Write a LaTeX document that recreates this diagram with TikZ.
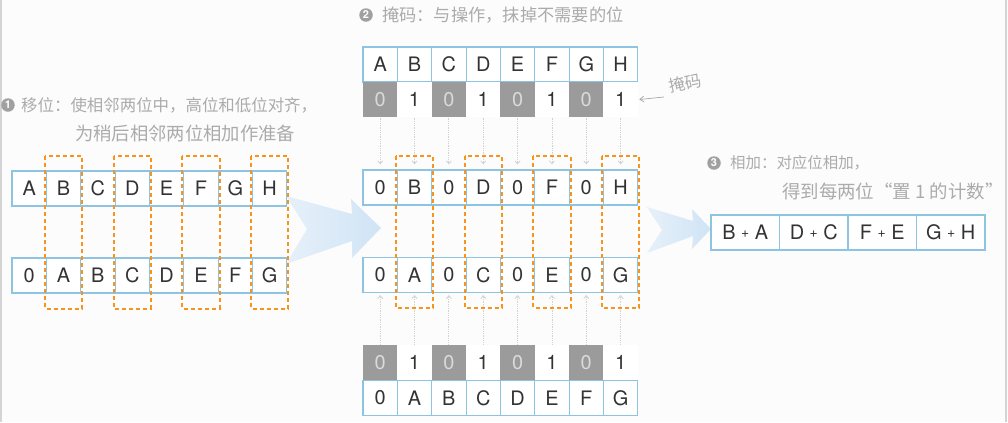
\documentclass[tikz,border=0pt]{standalone}
\usepackage{fontspec}
\setmainfont{TeX Gyre Heros}
\newfontfamily\cjk{Noto Sans CJK SC}
\usetikzlibrary{arrows.meta}
\definecolor{cellblue}{HTML}{8CC4E2}
\definecolor{pairorange}{HTML}{F7941E}
\definecolor{maskgray}{HTML}{9B9B9B}
\definecolor{masktext}{HTML}{DADADA}
\definecolor{notegray}{HTML}{ABABAB}
\definecolor{bulletgray}{HTML}{A0A0A0}
\definecolor{inkgray}{HTML}{333333}
\definecolor{arrowblue}{HTML}{D0E4F5}
\definecolor{arrowlight}{HTML}{E6F0FA}
\definecolor{pagebg}{HTML}{FCFCFC}
\definecolor{edgegray}{HTML}{D4D4D4}
\definecolor{passgray}{HTML}{D2D2D2}
\tikzset{
  cell/.style={draw=cellblue,line width=1.1bp,fill=white,minimum width=34.35bp,
    minimum height=35bp,inner sep=0pt,text=inkgray,font=\fontsize{20}{20}\selectfont},
  widecell/.style={cell,minimum width=68.5bp},
  maskzero/.style={cell,draw=none,fill=maskgray,text=masktext},
  maskone/.style={cell,draw=none},
  pairbox/.style={draw=pairorange,line width=2bp,dash pattern=on 4bp off 3bp},
  passline/.style={draw=passgray,line width=0.8bp,densely dotted,
    -{Straight Barb[length=3bp,width=5bp]}},
  notearrow/.style={draw=gray!70,line width=0.7bp,-{Straight Barb[length=4bp,width=6bp]}},
  note/.style={text=notegray,font=\cjk\fontsize{16.5}{20}\selectfont,inner sep=0pt,anchor=west},
  bullet/.style={circle,fill=bulletgray,text=white,inner sep=0pt,minimum size=13.5bp,
    font=\fontsize{11}{11}\selectfont\bfseries}
}
\begin{document}
\begin{tikzpicture}[x=1bp,y=-1bp]
    \fill[pagebg](0,0)rectangle(1008,422);
    \useasboundingbox(0,0)rectangle(1008,422);
    \draw[edgegray,line width=1.5bp](1,0)--(1,422) (1006,0)--(1006,422);
    \shade[left color=arrowlight,right color=arrowblue](286,196)--(352,214)--(351,199)--(381,228)
      --(352,258)--(352,241)--(286,264)--(307,229)--cycle;
    \shade[left color=arrowlight,right color=arrowblue](647,207)--(693,221)--(692,209)--(711,229)
      --(692,249)--(693,236)--(647,253)--(662,230)--cycle;
    \foreach \t [count=\i] in {A,B,C,D,E,F,G,H}
      \node[cell](la\i)at(12+34.35*\i-17.175,188.5){\t};
    \foreach \t [count=\i] in {0,A,B,C,D,E,F,G}
      \node[cell](lb\i)at(12+34.35*\i-17.175,275.5){\t};
    \foreach \t [count=\i] in {A,B,C,D,E,F,G,H}
      \node[cell](ma\i)at(363+34.35*\i-17.175,64.5){\t};
    \foreach \s/\t [count=\i] in {maskzero/0,maskone/1,maskzero/0,maskone/1,maskzero/0,maskone/1,maskzero/0,maskone/1}{
      \node[\s](mm\i)at(363+34.35*\i-17.175,99.5){\t};
      \node[\s](mn\i)at(363+34.35*\i-17.175,362.5){\t};}
    \foreach \t [count=\i] in {0,B,0,D,0,F,0,H}
      \node[cell](mc\i)at(363+34.35*\i-17.175,187.5){\t};
    \foreach \t [count=\i] in {0,A,0,C,0,E,0,G}
      \node[cell](md\i)at(363+34.35*\i-17.175,275){\t};
    \foreach \t [count=\i] in {0,A,B,C,D,E,F,G}
      \node[cell](me\i)at(363+34.35*\i-17.175,398){\t};
    \foreach \i in {1,...,8}{
      \draw[passline,shorten >=5bp](mm\i)--(mc\i);
      \draw[passline,shorten >=2bp](mn\i)--(md\i);}
    \foreach \i in {2,4,6,8}{
      \draw[pairbox]([shift={(-1,-14)}]la\i.north west)rectangle([shift={(1,15)}]lb\i.south east);
      \draw[pairbox]([shift={(-1,-13)}]mc\i.north west)rectangle([shift={(1,15)}]md\i.south east);}
    \foreach \p/\q [count=\i] in {B/A,D/C,F/E,G/H}
      \node[widecell](r\i)at(711+68.5*\i-34.25,232.5){\p\ \raisebox{2.5bp}{\fontsize{14}{14}\selectfont+} \q};
    \node[bullet](b1)at(8,105){1};
    \node[note](n1a)at(21,105){移位：使相邻两位中，高位和低位对齐，};
    \node[note,font=\cjk\fontsize{18.4}{20}\selectfont](n1b)at(75,133){为稍后相邻两位相加作准备};
    \node[bullet](b2)at(366,15){2};
    \node[note,font=\cjk\fontsize{17.3}{20}\selectfont](n2)at(382,15){掩码：与操作，抹掉不需要的位};
    \node[bullet](b3)at(714,163){3};
    \node[note,font=\cjk\fontsize{15.5}{20}\selectfont](n3a)at(730,163){相加：对应位相加，};
    \node[note,font=\cjk\fontsize{18.5}{20}\selectfont](n3b)at(782,191){得到每两位“置 1 的计数”};
    \node[note,anchor=center,rotate=12](maskname)at(685,83){掩码};
    \coordinate(masktail)at(664,97);
    \draw[notearrow](masktail)--([xshift=1bp]mm8.east);
  \end{tikzpicture}
\end{document}
